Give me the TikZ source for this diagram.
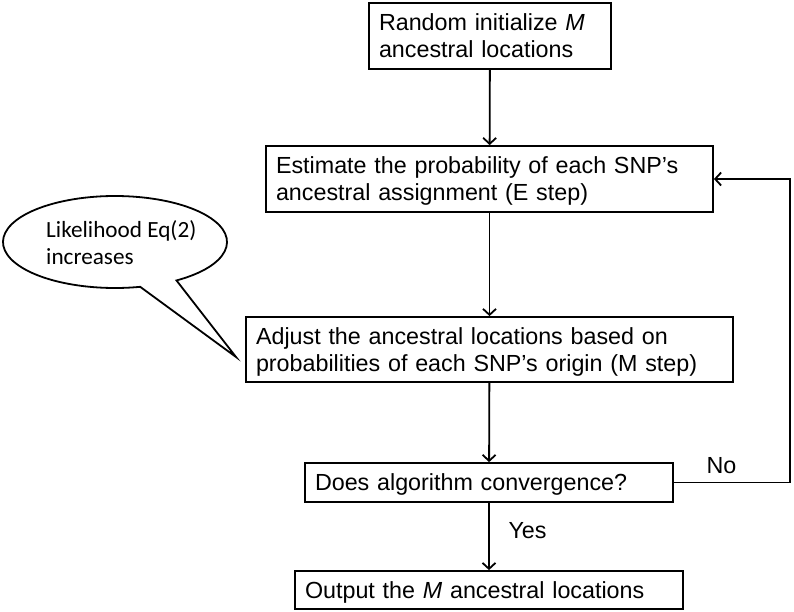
\documentclass[tikz,border=0pt]{standalone}
\usepackage{fontspec}
\setmainfont{Liberation Sans}
\newfontfamily\calfont{Carlito}
\usetikzlibrary{arrows.meta}
\begin{document}
\begin{tikzpicture}[x=1pt,y=-1pt,
  box/.style={draw,line width=1.8pt,align=left,inner xsep=10pt,inner ysep=2pt,font=\fontsize{23.3}{27}\selectfont},
  twoline/.style={text depth=27pt},
  oneline/.style={text depth=0pt},
  conn/.style={line width=1.8pt,-{Straight Barb[length=6pt,width=13pt]}},
  lbl/.style={font=\fontsize{23.3}{27}\selectfont,inner sep=0pt}]
\useasboundingbox (0,0) rectangle (794,612);
\node[box,twoline,text width=222pt,minimum height=66pt] (b1) at (490,36) {Random initialize \textit{M}\\ancestral locations};
\node[box,twoline,text width=427pt,minimum height=66pt] (b2) at (489.5,179) {Estimate the probability of each SNP’s\\ancestral assignment (E step)};
\node[box,twoline,text width=467pt,minimum height=65pt] (b3) at (489.5,349.5) {Adjust the ancestral locations based on\\probabilities of each SNP’s origin (M step)};
\node[box,oneline,text width=348pt,minimum height=39pt] (b4) at (489,482.5) {Does algorithm convergence?};
\node[box,oneline,text width=368pt,minimum height=38pt] (b5) at (489,590) {Output the \textit{M} ancestral locations};
\draw[conn] (b1) -- (b2);
\draw[conn] (b2) -- (b3);
\draw[conn] (b3) -- (b4);
\draw[conn] (b4) -- (b5);
\coordinate (loopx) at (790,300);
\draw[conn] (b4.east) -- (b4.east -| loopx) -- (b2.east -| loopx) -- (b2.east);
\node[lbl] (no) at (721.5,466) {No};
\node[lbl] (yes) at (527.5,531) {Yes};
\draw[line width=1.8pt] (115,242) ++(56.7:112 and 46) arc[start angle=56.7,end angle=-283,x radius=112,y radius=46] -- (236,357) -- cycle;
\node[anchor=west,align=left,inner sep=0pt,font=\calfont\fontsize{23.2}{27}\selectfont] (calltxt) at (46,243) {Likelihood Eq(2)\\increases};
\end{tikzpicture}
\end{document}
